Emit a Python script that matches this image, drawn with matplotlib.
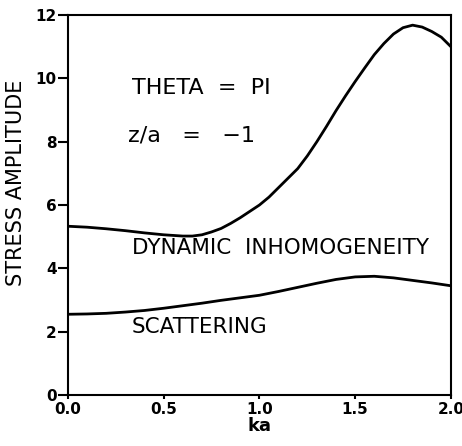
import matplotlib
matplotlib.use("Agg")
import matplotlib.pyplot as plt

# values
ka_upper = [0.0, 0.1, 0.2, 0.3, 0.4, 0.5, 0.6, 0.65, 0.7, 0.75, 0.8, 0.85, 0.9, 0.95,
            1.0, 1.05, 1.1, 1.15, 1.2, 1.25, 1.3, 1.35, 1.4, 1.45, 1.5, 1.55, 1.6,
            1.65, 1.7, 1.75, 1.8, 1.85, 1.9, 1.95, 2.0]
amp_upper = [5.33, 5.3, 5.25, 5.19, 5.12, 5.06, 5.02, 5.02, 5.06, 5.15, 5.26, 5.42, 5.6, 5.8,
             6.0, 6.25, 6.55, 6.85, 7.15, 7.55, 8.0, 8.48, 8.98, 9.45, 9.9, 10.33, 10.75,
             11.1, 11.4, 11.6, 11.68, 11.62, 11.48, 11.3, 11.0]

ka_lower = [0.0, 0.1, 0.2, 0.3, 0.4, 0.5, 0.6, 0.7, 0.8, 0.9, 1.0, 1.1, 1.2, 1.3,
            1.4, 1.5, 1.6, 1.7, 1.8, 1.9, 2.0]
amp_lower = [2.55, 2.56, 2.58, 2.62, 2.67, 2.74, 2.82, 2.9, 2.99, 3.07, 3.15, 3.27, 3.4, 3.53,
             3.65, 3.73, 3.75, 3.7, 3.62, 3.54, 3.45]

x_ticks = [0.0, 0.5, 1.0, 1.5, 2.0]
y_ticks = [0, 2, 4, 6, 8, 10, 12]

plt.rcParams['font.family'] = ['DejaVu Sans']

fig = plt.figure(figsize=(4.62, 4.46), dpi=100)
ax = fig.add_axes([0.147, 0.1143, 0.829, 0.852])

ax.plot(ka_upper, amp_upper, color='black', lw=2.0, solid_joinstyle='round')
ax.plot(ka_lower, amp_lower, color='black', lw=2.0, solid_joinstyle='round')

ax.set_xlim(0, 2)
ax.set_ylim(0, 12)
ax.set_xticks(x_ticks)
ax.set_xticklabels(['%.1f' % t for t in x_ticks], fontsize=11, fontweight='bold')
ax.set_yticks(y_ticks)
ax.set_yticklabels([str(t) for t in y_ticks], fontsize=11, fontweight='bold')
ax.tick_params(axis='x', direction='out', length=3, width=1.5, pad=2)
ax.tick_params(axis='y', direction='out', length=7, width=1.5, pad=1)
for s in ax.spines.values():
    s.set_linewidth(1.5)

ax.set_xlabel('ka', fontsize=13, fontweight='bold', labelpad=0)
ax.set_ylabel('STRESS AMPLITUDE', fontsize=15)
ax.yaxis.set_label_coords(-0.11, 0.558)

ax.text(0.334, 9.69, 'THETA  =  PI', fontsize=16, va='center')
ax.text(0.313, 8.2, 'z/a   =   \u22121', fontsize=16, va='center')
ax.text(0.334, 4.64, 'DYNAMIC  INHOMOGENEITY', fontsize=15.5, va='center')
ax.text(0.334, 2.15, 'SCATTERING', fontsize=15.5, va='center')

fig.savefig('out.png', dpi=100)
